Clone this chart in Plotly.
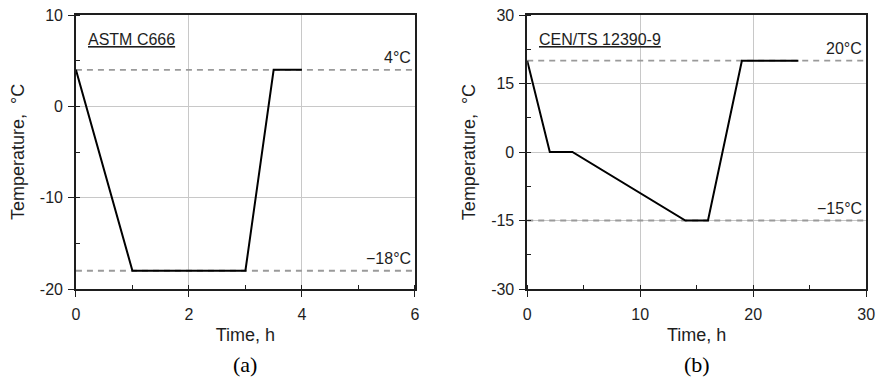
import plotly.graph_objects as go

# Freeze-thaw cycle profiles
astm_time = [0, 1, 3, 3.5, 4]
astm_temp = [4, -18, -18, 4, 4]
astm_limits = [4, -18]
astm_limit_labels = ["4°C", "−18°C"]

cen_time = [0, 2, 4, 14, 16, 19, 24]
cen_temp = [20, 0, 0, -15, -15, 20, 20]
cen_limits = [20, -15]
cen_limit_labels = ["20°C", "−15°C"]

astm_xticks = [0, 2, 4, 6]
astm_yticks = [10, 0, -10, -20]
astm_yticktext = ["10", "0", "-10", "-20"]
cen_xticks = [0, 10, 20, 30]
cen_yticks = [30, 15, 0, -15, -30]
cen_yticktext = ["30", "15", "0", "-15", "-30"]

FONT = "Liberation Sans, Arial, sans-serif"
SERIF = "Liberation Serif, Times New Roman, serif"
INK = "#1e1e1e"
Y_TITLE = "Temperature,\u00a0\u00a0°C"

fig = go.Figure()

panels = [
    ("x", "y", astm_time, astm_temp, astm_limits, astm_limit_labels, [0, 6], [-20, 10]),
    ("x2", "y2", cen_time, cen_temp, cen_limits, cen_limit_labels, [0, 30], [-30, 30]),
]

for xa, ya, t, v, lims, labs, xr, yr in panels:
    for lim, lab in zip(lims, labs):
        fig.add_trace(go.Scatter(
            x=xr, y=[lim, lim], xaxis=xa, yaxis=ya, mode="lines",
            line=dict(color="#9a9a9a", width=1.8, dash="6px,5px"),
            hoverinfo="skip", showlegend=False))
        fig.add_annotation(
            x=xr[1], y=lim, xref=xa, yref=ya, text=lab, showarrow=False,
            xanchor="right", yanchor="bottom", xshift=-2, yshift=2,
            font=dict(family=FONT, size=16, color=INK))
    fig.add_trace(go.Scatter(
        x=t, y=v, xaxis=xa, yaxis=ya, mode="lines",
        line=dict(color="black", width=2), showlegend=False))

axis_common = dict(
    showline=True, linecolor=INK, linewidth=1.5, mirror=True,
    showgrid=True, gridcolor="#c8c8c8", gridwidth=1,
    ticks="outside", ticklen=6, tickcolor=INK, tickwidth=1.3,
    tickfont=dict(family=FONT, size=16, color=INK),
    zeroline=False,
)
title_font = dict(family=FONT, size=18, color=INK)
minor_common = dict(ticks="inside", ticklen=4, tickcolor=INK, showgrid=False)

fig.update_layout(
    width=886, height=381,
    margin=dict(l=0, r=0, t=15, b=92),
    paper_bgcolor="white", plot_bgcolor="white",
    xaxis=dict(domain=[73 / 886, 417 / 886], range=[0, 6], tickvals=astm_xticks,
               minor=dict(dtick=1, **minor_common), ticklabelstandoff=4,
               title=dict(text="Time, h", font=title_font, standoff=6),
               anchor="y", **axis_common),
    yaxis=dict(domain=[0, 1], range=[-20, 10], tickvals=astm_yticks, ticktext=astm_yticktext,
               minor=dict(dtick=5, **minor_common), ticklabelstandoff=2,
               title=dict(text=Y_TITLE, font=title_font, standoff=11),
               anchor="x", **axis_common),
    xaxis2=dict(domain=[531 / 886, 875 / 886], range=[0, 30], tickvals=cen_xticks,
                minor=dict(dtick=5, **minor_common), ticklabelstandoff=4,
                title=dict(text="Time, h", font=title_font, standoff=6),
                anchor="y2", **axis_common),
    yaxis2=dict(domain=[0, 1], range=[-30, 30], tickvals=cen_yticks, ticktext=cen_yticktext,
                minor=dict(dtick=7.5, **minor_common), ticklabelstandoff=2,
                title=dict(text=Y_TITLE, font=title_font, standoff=11),
                anchor="x2", **axis_common),
)

# Standard names inside each panel
fig.add_annotation(x=0.03, y=0.91, xref="x domain", yref="y domain", text="<u>ASTM C666</u>",
                   showarrow=False, xanchor="left", yanchor="middle",
                   font=dict(family=FONT, size=16, color=INK))
fig.add_annotation(x=0.03, y=0.91, xref="x2 domain", yref="y2 domain", text="<u>CEN/TS 12390-9</u>",
                   showarrow=False, xanchor="left", yanchor="middle",
                   font=dict(family=FONT, size=16, color=INK))

# Panel captions
for xref, cap in (("x domain", "(a)"), ("x2 domain", "(b)")):
    fig.add_annotation(x=0.5, y=-0.277, xref=xref, yref="paper", text=cap, showarrow=False,
                       xanchor="center", yanchor="middle",
                       font=dict(family=SERIF, size=22, color="black"))

fig.write_html("out.html")
